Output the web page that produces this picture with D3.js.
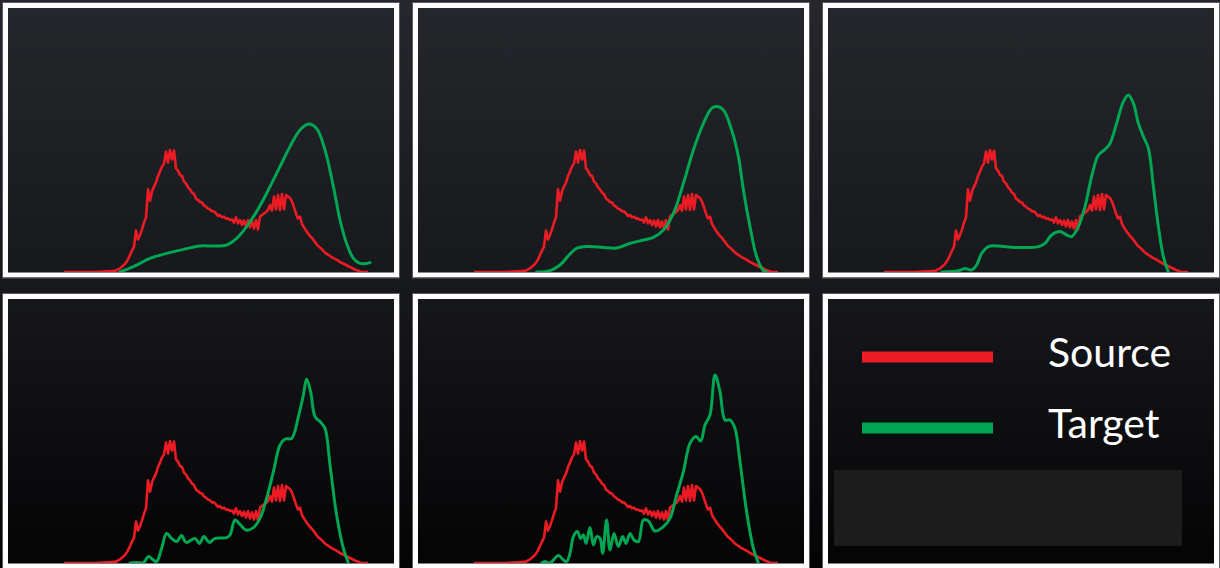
<!DOCTYPE html>
<html><head><meta charset="utf-8">
<script src="https://cdn.jsdelivr.net/npm/d3@7"></script>
<style>html,body{margin:0;padding:0;background:#111;}svg{display:block;}</style>
</head><body>
<svg id="chart" width="1220" height="568"></svg>
<script>
// ---- DATA ----
const binStart = 28; // first histogram bin of the source series
const sourceCounts = [0,0,0,0,0,0,0,0,0,0,0,0,0,0,0,0,0,
  0.1,0.1,0.2,0.2,0.3,0.3,0.4,0.5,0.6,
  0.7,1.3,1.8,2.7,3.5,4.7,6.3,8.5,10.7,12.7,20.7,16.3,18.5,21.3,24.7,27.3,41.3,35.7,40.2,42.7,44.7,48,50.2,52.7,54.3,60.2,54.7,61,56.3,60.7,51.8,50.7,48.5,48,45.2,44.3,42.3,41.3,39.7,39,36.7,36,35,34.7,33.3,32.7,31.7,31.3,30.3,30.3,29.3,28,28.5,27.3,27.7,26.7,26.8,26,26.3,24.7,27.3,24.3,26,23.5,25.7,22.7,26,22.3,25.3,21.7,26,21.3,27.7,28.5,29.3,30,31,33.5,30.7,37.7,31.3,38.5,31,39,31.3,38.5,37.7,37,35.2,32.3,29.3,26.8,27.7,24,22.3,20.7,19.3,18,17,15.7,14.3,13,12.2,11.3,10.2,9.3,8.7,8,7.3,6.8,6.3,5.7,5,4.5,4,3.5,3,2.5,2,1.5,1,0.7,0.3,0,0,0,0];

const target1 = [[56,0],[62.7,2.7],[71,6.8],[79.3,9.3],[87.7,11.3],[96,13],[102.7,13],[109.3,13.5],[114.3,16.8],[119.3,22.7],[124.3,30.2],[129.3,39.3],[136,52.7],[141,62.7],[146,71],[150.2,74],[154.3,71.8],[158.5,61],[162.7,42.7],[166,26],[169.3,14.3],[172.7,6.8],[176,4.3],[179.3,4.3],[181,4.7]];
const target2 = [[59.3,0],[66,0.7],[71,3.5],[76,9],[79.3,11.8],[84.3,12.7],[92.7,12.3],[99.3,12],[106,14.3],[112.7,16],[117.7,17.3],[122.7,21],[127.7,29.3],[132.7,44.3],[137.7,61],[142.7,74.3],[146.8,81.8],[149.3,82.7],[152.7,81],[156.8,71],[160.2,57.7],[162.7,41],[166,22.7],[169.3,7.7],[172.7,0.7],[174.3,0]];
const target3 = [[56.8,0],[65.2,0.7],[68.5,1.7],[71.8,1],[74.3,3.5],[76.8,9.3],[80.2,12.7],[85.2,13],[93.5,12.3],[105.2,12.7],[108.5,14.3],[111.8,18.5],[116,20.2],[119.3,18.5],[121.8,17.7],[125.2,22.7],[128.5,32.7],[131.8,47.7],[135.2,58.5],[138.5,61.3],[141,64.3],[144.3,74.3],[147.7,85.2],[150.2,88.5],[152.7,84.3],[155.2,74.3],[157.7,67.7],[160.2,61.8],[162.7,42.7],[165.2,22.7],[167.7,7.7],[170.2,0]];
const target4 = [[61,0],[64.3,0.3],[67.7,0.2],[70.2,3.2],[72.7,1.5],[74.3,0.7],[76.8,7.3],[79.3,14.8],[81.8,12.3],[84.3,10.7],[86.8,13.7],[89,10.3],[93.5,12.3],[95.7,9.8],[98,13.2],[100.7,10.3],[103.5,12.3],[109.3,12.7],[111,14],[113.5,21.5],[116,19.3],[119,16.5],[122.7,17.7],[126,22.3],[129.3,32.3],[132.7,45.7],[136,59],[138.5,62],[141.8,62.3],[145.2,73.2],[147.7,84],[149.3,92],[151.3,85.7],[153.5,73.2],[156,70.7],[158.5,67.3],[161,49],[164.3,24],[167.7,7.3],[170.2,0]];
const target5 = [[61.8,0],[63.5,0.7],[66,0],[70.2,3.7],[72.7,1.5],[74.3,0.7],[76,4.8],[77.7,13.2],[79.7,15.7],[81.3,12.3],[82.7,14],[84,9.8],[86,17.7],[87.7,9],[89.3,13.2],[91,12.3],[92.3,4.8],[94.3,21.5],[96,6.5],[98,14.8],[100.2,8.2],[102.3,13.2],[104,9.8],[106,14.8],[108,11.5],[110.2,10.7],[112.7,21.5],[115.2,21],[118.5,16],[122.7,18.2],[126,22.3],[129.3,34],[132.7,45.7],[136,59.8],[139,63.2],[141.3,61],[143.5,69],[146,74],[148.5,94],[151,85.7],[153.5,71.5],[156,71.5],[158.5,67.3],[161,50.7],[164.3,25.7],[167.7,7.3],[170.2,0]];
const targets = [target1, target2, target3, target4, target5];

const seriesNames = ["Source", "Target"];
const seriesColors = ["#ed1c24", "#00a651"];
const binDomain = [0, 193];
const countDomain = [0, 132];

// ---- LAYOUT ----
const svg = d3.select("#chart");
const W = 1220, H = 568;
const defs = svg.append("defs");
const grad = defs.append("linearGradient").attr("id","bg").attr("x1",0).attr("y1",0).attr("x2",0).attr("y2",1);
grad.append("stop").attr("offset","0%").attr("stop-color","#26272c");
grad.append("stop").attr("offset","50%").attr("stop-color","#17181c");
grad.append("stop").attr("offset","100%").attr("stop-color","#040405");
svg.append("rect").attr("width",W).attr("height",H).attr("fill","url(#bg)");

const innerW = 386, innerH = 264;
const colX = [8, 418, 828];
const rowY = [8, 299];
const x = d3.scaleLinear().domain(binDomain).range([0, innerW]);
const y = d3.scaleLinear().domain(countDomain).range([innerH, 0]);

const sourceData = sourceCounts.map((v,i)=>[binStart+i, v]);
const redLine = d3.line().x(d=>x(d[0])).y(d=>y(d[1])).curve(d3.curveLinear);
const greenLine = d3.line().x(d=>x(d[0])).y(d=>y(d[1])).curve(d3.curveCatmullRom.alpha(0.5));

const panels = [];
for (let r=0;r<2;r++) for (let c=0;c<3;c++) panels.push({r,c});

panels.forEach((p,k)=>{
  const g = svg.append("g").attr("transform",`translate(${colX[p.c]},${rowY[p.r]})`);
  if (k < 5) {
    const clip = "clip"+k;
    defs.append("clipPath").attr("id",clip).append("rect").attr("x",0).attr("y",-2).attr("width",innerW).attr("height",innerH+2);
    const pg = g.append("g").attr("clip-path",`url(#${clip})`);
    pg.append("path").datum(sourceData).attr("d",redLine).attr("fill","none")
      .attr("stroke",seriesColors[0]).attr("stroke-width",2.6).attr("stroke-linejoin","round");
    pg.append("path").datum(targets[k]).attr("d",greenLine).attr("fill","none")
      .attr("stroke",seriesColors[1]).attr("stroke-width",3).attr("stroke-linejoin","round").attr("stroke-linecap","round");
  }
  // border
  g.append("rect").attr("x",-2.5).attr("y",-2.5).attr("width",innerW+5).attr("height",innerH+5.5)
    .attr("fill","none").attr("stroke","#fdfdfd").attr("stroke-width",5);
  g.append("rect").attr("x",-5.5).attr("y",-5.5).attr("width",innerW+11).attr("height",innerH+11.5)
    .attr("fill","none").attr("stroke","#5a5b60").attr("stroke-width",1);
});

// ---- LEGEND (6th panel) ----
const lg = svg.append("g").attr("transform",`translate(${colX[2]},${rowY[1]})`);
const legendY = d3.scalePoint().domain(seriesNames).range([58, 129]);
seriesNames.forEach((name,i)=>{
  lg.append("line").attr("x1",34).attr("x2",165).attr("y1",legendY(name)).attr("y2",legendY(name))
    .attr("stroke",seriesColors[i]).attr("stroke-width",11);
  lg.append("text").attr("x",220).attr("y",legendY(name)+10).text(name)
    .attr("fill","#ffffff").attr("font-family","Lato, 'Open Sans', sans-serif").attr("font-size",41);
});
lg.append("rect").attr("x",6).attr("y",171).attr("width",348).attr("height",76).attr("fill","#1c1c1c");
</script>
</body></html>
